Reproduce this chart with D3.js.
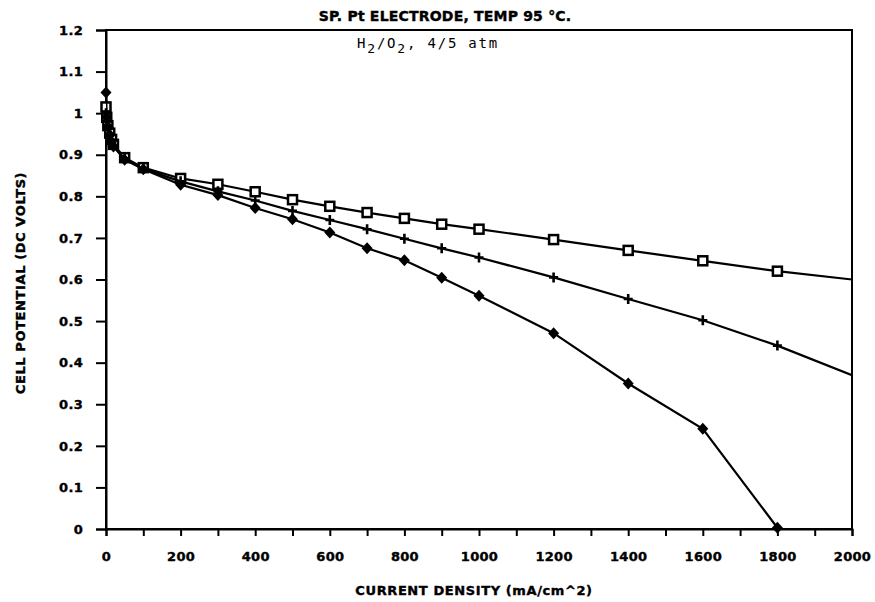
<!DOCTYPE html>
<html>
<head>
<meta charset="utf-8">
<script src="https://cdn.jsdelivr.net/npm/d3@7"></script>
<style>
  body { margin: 0; background: #fff; }
  text { fill: #000; }
</style>
</head>
<body>
<div id="chart"></div>
<script>
// current density (mA/cm^2) and cell potential (V)
const squareX = [0, 2, 5, 10, 15, 20, 50, 100, 200, 300, 400, 500, 600, 700, 800, 900, 1000, 1200, 1400, 1600, 1800, 2000];
const squareY = [1.015, 0.99, 0.97, 0.952, 0.937, 0.925, 0.893, 0.869, 0.843, 0.829, 0.811, 0.792, 0.776, 0.761, 0.747, 0.733, 0.721, 0.696, 0.670, 0.645, 0.620, 0.600];

const plusX = [0, 2, 5, 10, 15, 20, 50, 100, 200, 300, 400, 500, 600, 700, 800, 900, 1000, 1200, 1400, 1600, 1800, 2000];
const plusY = [1.0, 0.98, 0.962, 0.946, 0.932, 0.921, 0.890, 0.866, 0.836, 0.812, 0.790, 0.765, 0.743, 0.721, 0.698, 0.675, 0.653, 0.605, 0.553, 0.502, 0.441, 0.370];

const diamondX = [0, 2, 5, 10, 15, 20, 50, 100, 200, 300, 400, 500, 600, 700, 800, 900, 1000, 1200, 1400, 1600, 1800];
const diamondY = [1.05, 0.99, 0.968, 0.948, 0.932, 0.92, 0.888, 0.865, 0.828, 0.803, 0.772, 0.745, 0.713, 0.675, 0.646, 0.604, 0.561, 0.471, 0.350, 0.241, 0.003];

const xTicks = [0, 200, 400, 600, 800, 1000, 1200, 1400, 1600, 1800, 2000];
const xMinorTicks = d3.range(0, 2001, 100);
const yTicks = [0, 0.1, 0.2, 0.3, 0.4, 0.5, 0.6, 0.7, 0.8, 0.9, 1, 1.1, 1.2];

const W = 875, H = 602;
const x = d3.scaleLinear().domain([0, 2000]).range([106, 852]);
const y = d3.scaleLinear().domain([0, 1.2]).range([529, 30]);

const svg = d3.select("#chart").append("svg")
  .attr("width", W).attr("height", H);

svg.append("defs").append("clipPath").attr("id", "plot")
  .append("rect")
  .attr("x", x(0)).attr("y", y(1.2))
  .attr("width", x(2000) - x(0)).attr("height", y(0) - y(1.2));

// frame
svg.append("rect")
  .attr("x", x(0)).attr("y", y(1.2))
  .attr("width", x(2000) - x(0)).attr("height", y(0) - y(1.2))
  .attr("fill", "none").attr("stroke", "#000").attr("stroke-width", 2);

const labelFont = "'DejaVu Sans', sans-serif";

function heavy(sel, size, spacing) {
  sel.style("font-family", labelFont).style("font-weight", "bold")
    .style("font-size", size + "px")
    .style("letter-spacing", spacing + "px")
    .attr("stroke", "#000").attr("stroke-width", 0.4);
}

// y axis
const yAxis = svg.append("g")
  .attr("transform", `translate(${x(0)},0)`)
  .call(d3.axisLeft(y).tickValues(yTicks).tickSize(10).tickPadding(13)
    .tickFormat(d => d3.format("~g")(d)));
yAxis.select(".domain").attr("stroke-width", 2);
yAxis.selectAll(".tick line").attr("stroke-width", 2);
heavy(yAxis.selectAll(".tick text"), 13, 0.3);

// x axis: small ticks every 100, labels every 200
const xAxis = svg.append("g")
  .attr("transform", `translate(0,${y(0)})`)
  .call(d3.axisBottom(x).tickValues(xMinorTicks).tickSize(7).tickPadding(16)
    .tickFormat(d => xTicks.includes(d) ? d : ""));
xAxis.select(".domain").attr("stroke-width", 2);
xAxis.selectAll(".tick line").attr("stroke-width", 2);
heavy(xAxis.selectAll(".tick text"), 13, 0.3);

// titles
heavy(svg.append("text")
  .attr("x", 445).attr("y", 21)
  .attr("text-anchor", "middle")
  .text("SP. Pt ELECTRODE, TEMP 95 \u00B0C."), 14, 0.2);

const sub = svg.append("text")
  .attr("x", 357).attr("y", 48)
  .style("font-family", "'DejaVu Sans Mono', monospace").style("font-size", "14px")
  .style("letter-spacing", "1.8px");
sub.append("tspan").text("H");
sub.append("tspan").attr("dy", 5).style("font-size", "13px").text("2");
sub.append("tspan").attr("dy", -5).text("/O");
sub.append("tspan").attr("dy", 5).style("font-size", "13px").text("2");
sub.append("tspan").attr("dy", -5).text(", 4/5 atm");

heavy(svg.append("text")
  .attr("transform", "translate(25,283) rotate(-90)")
  .attr("text-anchor", "middle")
  .text("CELL POTENTIAL (DC VOLTS)"), 13, 0.6);

heavy(svg.append("text")
  .attr("x", 474).attr("y", 595)
  .attr("text-anchor", "middle")
  .text("CURRENT DENSITY (mA/cm^2)"), 13, 0.6);

// series
const series = [
  { name: "square", xs: squareX, ys: squareY },
  { name: "plus", xs: plusX, ys: plusY },
  { name: "diamond", xs: diamondX, ys: diamondY }
];

const line = d3.line().x(d => x(d[0])).y(d => y(d[1]));

series.forEach(s => {
  const pts = s.xs.map((v, i) => [v, s.ys[i]]);
  svg.append("path")
    .datum(pts)
    .attr("clip-path", "url(#plot)")
    .attr("fill", "none").attr("stroke", "#000").attr("stroke-width", 2.2)
    .attr("d", line);

  const marks = svg.append("g").selectAll("g")
    .data(pts.filter(d => d[0] < 2000))
    .enter().append("g")
    .attr("transform", d => `translate(${x(d[0])},${y(d[1])})`);

  if (s.name === "square") {
    marks.append("rect")
      .attr("x", -4.5).attr("y", -4.5).attr("width", 9).attr("height", 9)
      .attr("fill", "#fff").attr("stroke", "#000").attr("stroke-width", 2.5);
  } else if (s.name === "plus") {
    marks.append("path")
      .attr("d", "M-4.5,0H4.5M0,-5V5")
      .attr("stroke", "#000").attr("stroke-width", 2.6);
  } else {
    marks.append("path")
      .attr("d", "M0,-6L5.5,0L0,6L-5.5,0Z")
      .attr("fill", "#000");
  }
});
</script>
</body>
</html>
